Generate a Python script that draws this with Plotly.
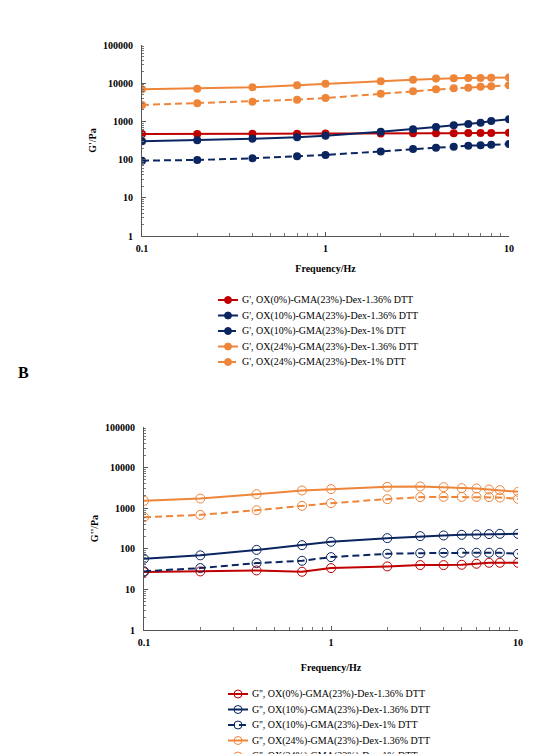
import plotly.graph_objects as go

freq = [0.1, 0.2, 0.4, 0.7, 1, 2, 3, 4, 5, 6, 7, 8, 10]

# Panel A: G' (storage modulus)
gp_ox0_136 = [470, 470, 475, 478, 480, 485, 488, 490, 492, 495, 497, 500, 505]
gp_ox10_136 = [301, 319, 353, 383, 423, 539, 620, 713, 788, 855, 927, 1024, 1132]
gp_ox10_1 = [94, 98, 108, 122, 132, 164, 189, 205, 218, 232, 236, 246, 256]
gp_ox24_136 = [6900, 7200, 7800, 8800, 9700, 11200, 12400, 13200, 13400, 13600, 13700, 13800, 14000]
gp_ox24_1 = [2690, 2970, 3290, 3710, 4100, 5320, 6120, 6900, 7340, 7640, 8110, 8280, 8790]

# Panel B: G'' (loss modulus)
gpp_ox0_136 = [26.7, 27.7, 29.3, 27.2, 33.5, 36.8, 39.7, 39.7, 40.4, 42.8, 45.3, 45.3, 45.3]
gpp_ox10_136 = [57, 69, 94, 123, 149, 183, 205, 213, 221, 225, 230, 234, 234]
gpp_ox10_1 = [28, 33.5, 44.4, 50.7, 62.4, 75.4, 78, 80, 80, 80, 80, 80, 75]
gpp_ox24_136 = [1520, 1730, 2220, 2730, 2950, 3360, 3430, 3300, 3120, 3060, 2890, 2780, 2530]
gpp_ox24_1 = [600, 685, 893, 1140, 1330, 1670, 1870, 1900, 1900, 1900, 1870, 1830, 1700]

names_a = ["G', OX(0%)-GMA(23%)-Dex-1.36% DTT",
           "G', OX(10%)-GMA(23%)-Dex-1.36% DTT",
           "G', OX(10%)-GMA(23%)-Dex-1% DTT",
           "G', OX(24%)-GMA(23%)-Dex-1.36% DTT",
           "G', OX(24%)-GMA(23%)-Dex-1% DTT"]
names_b = ["G'', OX(0%)-GMA(23%)-Dex-1.36% DTT",
           "G'', OX(10%)-GMA(23%)-Dex-1.36% DTT",
           "G'', OX(10%)-GMA(23%)-Dex-1% DTT",
           "G'', OX(24%)-GMA(23%)-Dex-1.36% DTT",
           "G'', OX(24%)-GMA(23%)-Dex-1% DTT"]

ytickvals = [1, 10, 100, 1000, 10000, 100000]
yticktext = ["1", "10", "100", "1000", "10000", "100000"]
xtickvals = [0.1, 1, 10]
xticktext = ["0.1", "1", "10"]

RED = "#C00000"
NAVY = "#0B2560"
ORANGE = "#EE8539"
colors = [RED, NAVY, NAVY, ORANGE, ORANGE]
dashes = ["solid", "solid", "7px,4px", "solid", "7px,4px"]

W, H = 534, 754
FONT = "Liberation Serif"

fig = go.Figure()

series_a = [gp_ox0_136, gp_ox10_136, gp_ox10_1, gp_ox24_136, gp_ox24_1]
series_b = [gpp_ox0_136, gpp_ox10_136, gpp_ox10_1, gpp_ox24_136, gpp_ox24_1]

for vals, nm, c, d in zip(series_a, names_a, colors, dashes):
    fig.add_trace(go.Scatter(x=freq, y=vals, name=nm, mode="lines+markers",
                             line=dict(color=c, width=2, dash=d),
                             marker=dict(color=c, size=8, symbol="circle"),
                             xaxis="x", yaxis="y", showlegend=False))

for vals, nm, c, d in zip(series_b, names_b, colors, dashes):
    fig.add_trace(go.Scatter(x=freq, y=vals, name=nm, mode="lines+markers",
                             line=dict(color=c, width=2, dash=d),
                             marker=dict(color=c, size=9, symbol="circle-open",
                                         line=dict(color=c, width=1)),
                             xaxis="x2", yaxis="y2", showlegend=False))


def px_x(a, b):
    return [a / W, b / W]


def px_y(top, bottom):
    return [1 - bottom / H, 1 - top / H]


def fx(px):
    return px / W


def fy(py):
    return 1 - py / H


tickfont = dict(family=FONT, size=10, color="black", weight="bold")
titlefont = dict(family=FONT, size=10, color="black", weight="bold")

common_x = dict(type="log", range=[-1, 1], tickvals=xtickvals, ticktext=xticktext,
                showline=True, linecolor="#555", linewidth=1, showgrid=False, zeroline=False,
                ticks="inside", ticklen=4, tickcolor="#555", automargin=False,
                ticklabelstandoff=3,
                minor=dict(ticks="inside", ticklen=3, tickcolor="#777", dtick="D1", showgrid=False),
                tickfont=tickfont)
common_y = dict(type="log", range=[0, 5], tickvals=ytickvals, ticktext=yticktext,
                showline=True, linecolor="#555", linewidth=1, showgrid=False, zeroline=False,
                ticks="inside", ticklen=4, tickcolor="#555", automargin=False,
                ticklabelstandoff=6,
                minor=dict(ticks="inside", ticklen=2, tickcolor="#777", dtick="D1", showgrid=False),
                tickfont=tickfont)

# Hand-drawn legends (tight row spacing as in the original figure)
shapes = []
annotations = []
legend_specs = [
    (names_a, 218, 238, 240, [300, 315.5, 331, 346.5, 362], True),
    (names_b, 228, 248, 250, [694, 709.5, 725, 740.5, 756], False),
]
for names, lx0, lx1, tx, rows, filled in legend_specs:
    for nm, c, d, ry in zip(names, colors, dashes, rows):
        shapes.append(dict(type="line", xref="paper", yref="paper",
                           x0=fx(lx0), x1=fx(lx1), y0=fy(ry), y1=fy(ry),
                           line=dict(color=c, width=2, dash=d)))
        cx = (lx0 + lx1) / 2
        r = 3.5 if filled else 4
        shapes.append(dict(type="circle", xref="paper", yref="paper",
                           x0=fx(cx - r), x1=fx(cx + r), y0=fy(ry + r), y1=fy(ry - r),
                           fillcolor=c if filled else "rgba(0,0,0,0)",
                           line=dict(color=c, width=1)))
        annotations.append(dict(text=nm, x=fx(tx), y=fy(ry), xref="paper", yref="paper",
                                showarrow=False, xanchor="left", yanchor="middle",
                                font=dict(family=FONT, size=10, color="black")))

annotations.append(dict(text="B", x=fx(23), y=fy(372), xref="paper", yref="paper",
                        showarrow=False, xanchor="center", yanchor="middle",
                        font=dict(family=FONT, size=16, color="black", weight="bold")))

fig.update_layout(
    width=W, height=H,
    margin=dict(l=0, r=0, t=0, b=0, autoexpand=False),
    paper_bgcolor="white", plot_bgcolor="white",
    font=dict(family=FONT, color="black"),
    showlegend=False,
    xaxis=dict(domain=px_x(142, 509), anchor="y",
               title=dict(text="Frequency/Hz", font=titlefont, standoff=11), **common_x),
    yaxis=dict(domain=px_y(45, 236), anchor="x",
               title=dict(text="G'/Pa", font=titlefont, standoff=4), **common_y),
    xaxis2=dict(domain=px_x(144, 518), anchor="y2",
                title=dict(text="Frequency/Hz", font=titlefont, standoff=16), **common_x),
    yaxis2=dict(domain=px_y(427, 630), anchor="x2",
                title=dict(text="G''/Pa", font=titlefont, standoff=4), **common_y),
    shapes=shapes,
    annotations=annotations,
)

fig.write_html("out.html")
